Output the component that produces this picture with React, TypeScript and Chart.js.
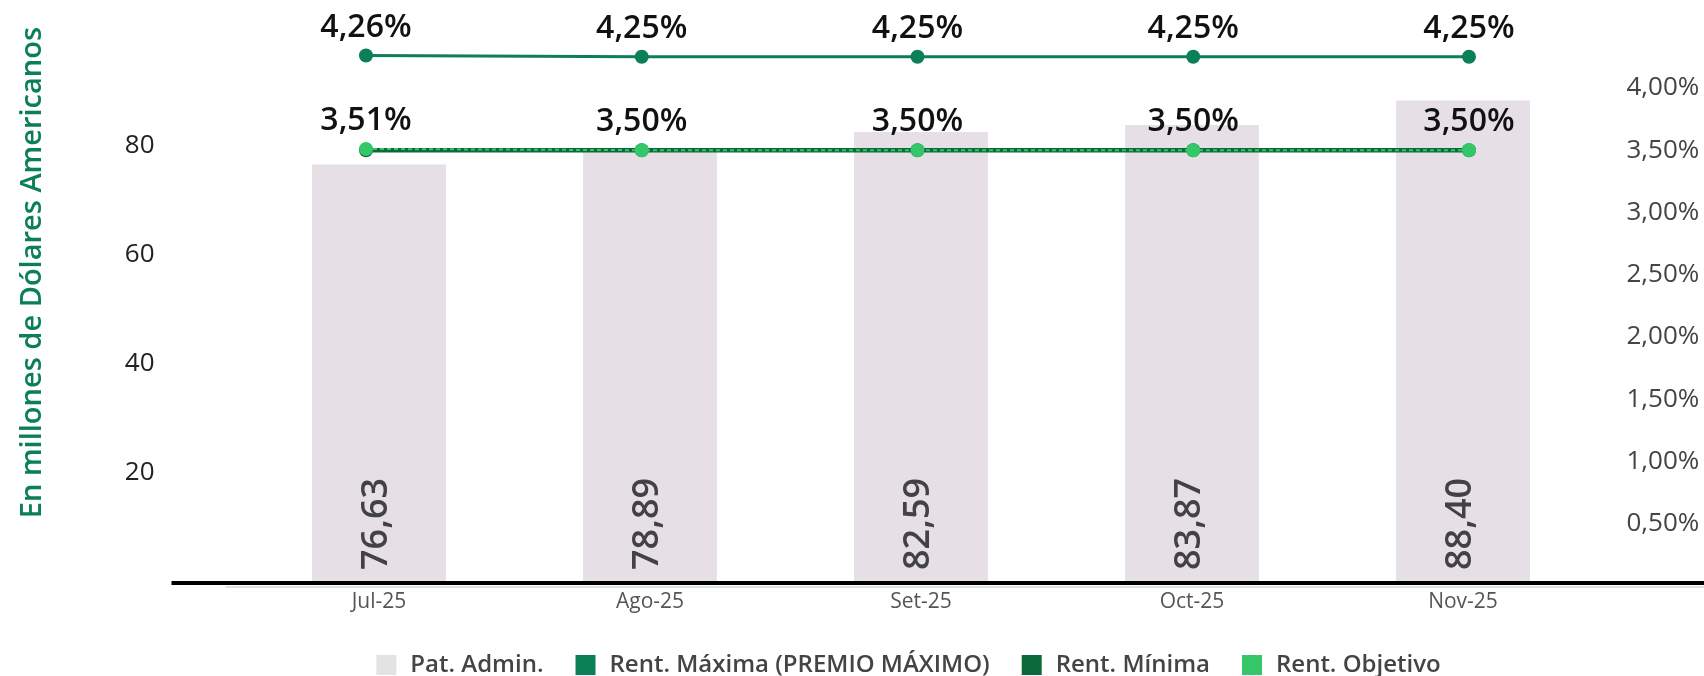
import React, { useEffect, useRef } from 'react';
import { Chart, registerables } from 'chart.js';

Chart.register(...registerables);

const categories = ['Jul-25', 'Ago-25', 'Set-25', 'Oct-25', 'Nov-25'];
const patAdmin = [76.63, 78.89, 82.59, 83.87, 88.4];
const rentMaxima = [4.26, 4.25, 4.25, 4.25, 4.25];
const rentMinima = [3.5, 3.5, 3.5, 3.5, 3.5];
const rentObjetivo = [3.51, 3.5, 3.5, 3.5, 3.5];
const leftTicks = [20, 40, 60, 80];
const rightTicks = [0.5, 1, 1.5, 2, 2.5, 3, 3.5, 4];
const seriesNames = ['Pat. Admin.', 'Rent. Máxima (PREMIO MÁXIMO)', 'Rent. Mínima', 'Rent. Objetivo'];
const yTitle = 'En millones de Dólares Americanos';

const barColor = '#e6e0e6';
const maxColor = '#0b7f56';
const minColor = '#0c6a3a';
const objColor = '#34c76a';
const legendColors = ['#e3e3e3', maxColor, minColor, objColor];

const fmt = (v: number) => v.toFixed(2).replace('.', ',');

const decorPlugin = {
  id: 'decor',
  afterDatasetsDraw(chart: any) {
    const { ctx } = chart;
    ctx.save();
    const barMeta = chart.getDatasetMeta(0);
    ctx.font = "600 36px 'Open Sans'";
    ctx.fillStyle = '#424242';
    ctx.textAlign = 'left';
    ctx.textBaseline = 'middle';
    barMeta.data.forEach((el: any, i: number) => {
      ctx.save();
      ctx.translate(el.x - 2, el.base - 11);
      ctx.rotate(-Math.PI / 2);
      ctx.fillText(fmt(patAdmin[i]), 0, 0);
      ctx.restore();
    });
    ctx.font = "600 32px 'Open Sans'";
    ctx.fillStyle = '#111111';
    ctx.textAlign = 'center';
    const labelled: [number, number[]][] = [
      [1, rentMaxima],
      [3, rentObjetivo],
    ];
    labelled.forEach(([di, vals]) => {
      const meta = chart.getDatasetMeta(di);
      meta.data.forEach((el: any, i: number) => {
        ctx.fillText(fmt(vals[i]) + '%', el.x, el.y - 28);
      });
    });
    ctx.restore();
  },
  afterDraw(chart: any) {
    const { ctx, chartArea } = chart;
    ctx.save();
    ctx.fillStyle = '#e0e0e0';
    ctx.fillRect(chartArea.left - 18, chartArea.bottom + 5, chart.width, 2);
    ctx.fillStyle = '#000000';
    ctx.fillRect(chartArea.left - 72, chartArea.bottom, chart.width, 4);
    ctx.restore();
  },
};

export default function App() {
  const ref = useRef<HTMLCanvasElement | null>(null);

  useEffect(() => {
    if (!ref.current) return;
    Chart.defaults.font.family = "'Open Sans', sans-serif";
    const chart = new Chart(ref.current, {
      type: 'bar',
      data: {
        labels: categories,
        datasets: [
          {
            type: 'bar',
            label: seriesNames[0],
            data: patAdmin,
            backgroundColor: barColor,
            borderWidth: 0,
            categoryPercentage: 1,
            barPercentage: 0.494,
            grouped: false,
            xAxisID: 'x',
            yAxisID: 'y',
            order: 10,
          } as any,
          {
            type: 'line',
            label: seriesNames[1],
            data: rentMaxima.map((v, i) => ({ x: i, y: v })),
            xAxisID: 'x2',
            yAxisID: 'y1',
            borderColor: maxColor,
            backgroundColor: maxColor,
            borderWidth: 3,
            pointRadius: 7,
            pointBorderWidth: 0,
            pointBackgroundColor: maxColor,
            tension: 0,
            order: 3,
          } as any,
          {
            type: 'line',
            label: seriesNames[2],
            data: rentMinima.map((v, i) => ({ x: i, y: v })),
            xAxisID: 'x2',
            yAxisID: 'y1',
            borderColor: minColor,
            backgroundColor: minColor,
            borderWidth: 4.5,
            pointRadius: 7,
            pointBorderWidth: 0,
            pointBackgroundColor: minColor,
            tension: 0,
            order: 2,
          } as any,
          {
            type: 'line',
            label: seriesNames[3],
            data: rentObjetivo.map((v, i) => ({ x: i, y: v })),
            xAxisID: 'x2',
            yAxisID: 'y1',
            borderColor: objColor,
            backgroundColor: objColor,
            borderWidth: 2,
            borderDash: [4, 3],
            pointRadius: 7,
            pointBorderWidth: 0,
            pointBackgroundColor: objColor,
            tension: 0,
            order: 1,
          } as any,
        ],
      },
      options: {
        responsive: false,
        animation: false,
        events: [],
        layout: { padding: { left: 111, top: 27, right: 0, bottom: -11 } },
        plugins: {
          tooltip: { enabled: false },
          legend: {
            position: 'bottom',
            labels: {
              usePointStyle: true,
              pointStyle: 'rect',
              boxWidth: 30,
              boxHeight: 20,
              padding: 30,
              color: '#444444',
              font: { size: 24, weight: '600' },
              generateLabels: (c: any) =>
                c.data.datasets.map((ds: any, i: number) => ({
                  text: ds.label,
                  fillStyle: legendColors[i],
                  strokeStyle: legendColors[i],
                  lineWidth: 0,
                  hidden: false,
                  datasetIndex: i,
                  lineDash: [],
                  lineDashOffset: 0,
                  pointStyle: 'rect',
                  fontColor: '#444444',
                })),
            },
          },
        },
        scales: {
          x: {
            type: 'category',
            offset: true,
            grid: { display: false, drawTicks: false },
            border: { display: false },
            ticks: { color: '#555555', font: { size: 21 }, padding: 8 },
            afterFit: (s: any) => {
              s.height = 42;
            },
          },
          x2: {
            type: 'linear',
            position: 'bottom',
            display: false,
            offset: false,
            bounds: 'data',
            grid: { offset: false },
            min: -0.4442,
            max: 4.4697,
          },
          y: {
            position: 'left',
            min: 0,
            max: 101.9,
            grid: { display: false, drawTicks: false },
            border: { display: false },
            afterBuildTicks: (s: any) => {
              s.ticks = leftTicks.map((v) => ({ value: v }));
            },
            ticks: { color: '#222222', font: { size: 26 }, padding: 89 },
            title: {
              display: true,
              text: yTitle,
              color: maxColor,
              align: 'end',
              font: { size: 29, weight: '600' },
              padding: { top: -96, bottom: 0 },
            },
            afterFit: (s: any) => {
              s.width = 132.5;
              s.paddingTop = 0;
              s.paddingBottom = 0;
            },
          },
          y1: {
            position: 'right',
            min: 0.042,
            max: 4.489,
            grid: { display: false, drawTicks: false },
            border: { display: false },
            afterBuildTicks: (s: any) => {
              s.ticks = rightTicks.map((v) => ({ value: v }));
            },
            ticks: {
              color: '#444444',
              font: { size: 26 },
              padding: 28,
              callback: (v: any) => fmt(Number(v)) + '%',
            },
            afterFit: (s: any) => {
              s.width = 105.5;
              s.paddingTop = 0;
              s.paddingBottom = 0;
            },
          },
        },
      } as any,
      plugins: [decorPlugin],
    });
    return () => chart.destroy();
  }, []);

  return (
    <div style={{ position: 'fixed', left: 0, top: 0, width: 1704, height: 676, background: '#ffffff' }}>
      <canvas ref={ref} width={1704} height={676} style={{ display: 'block' }} />
    </div>
  );
}
